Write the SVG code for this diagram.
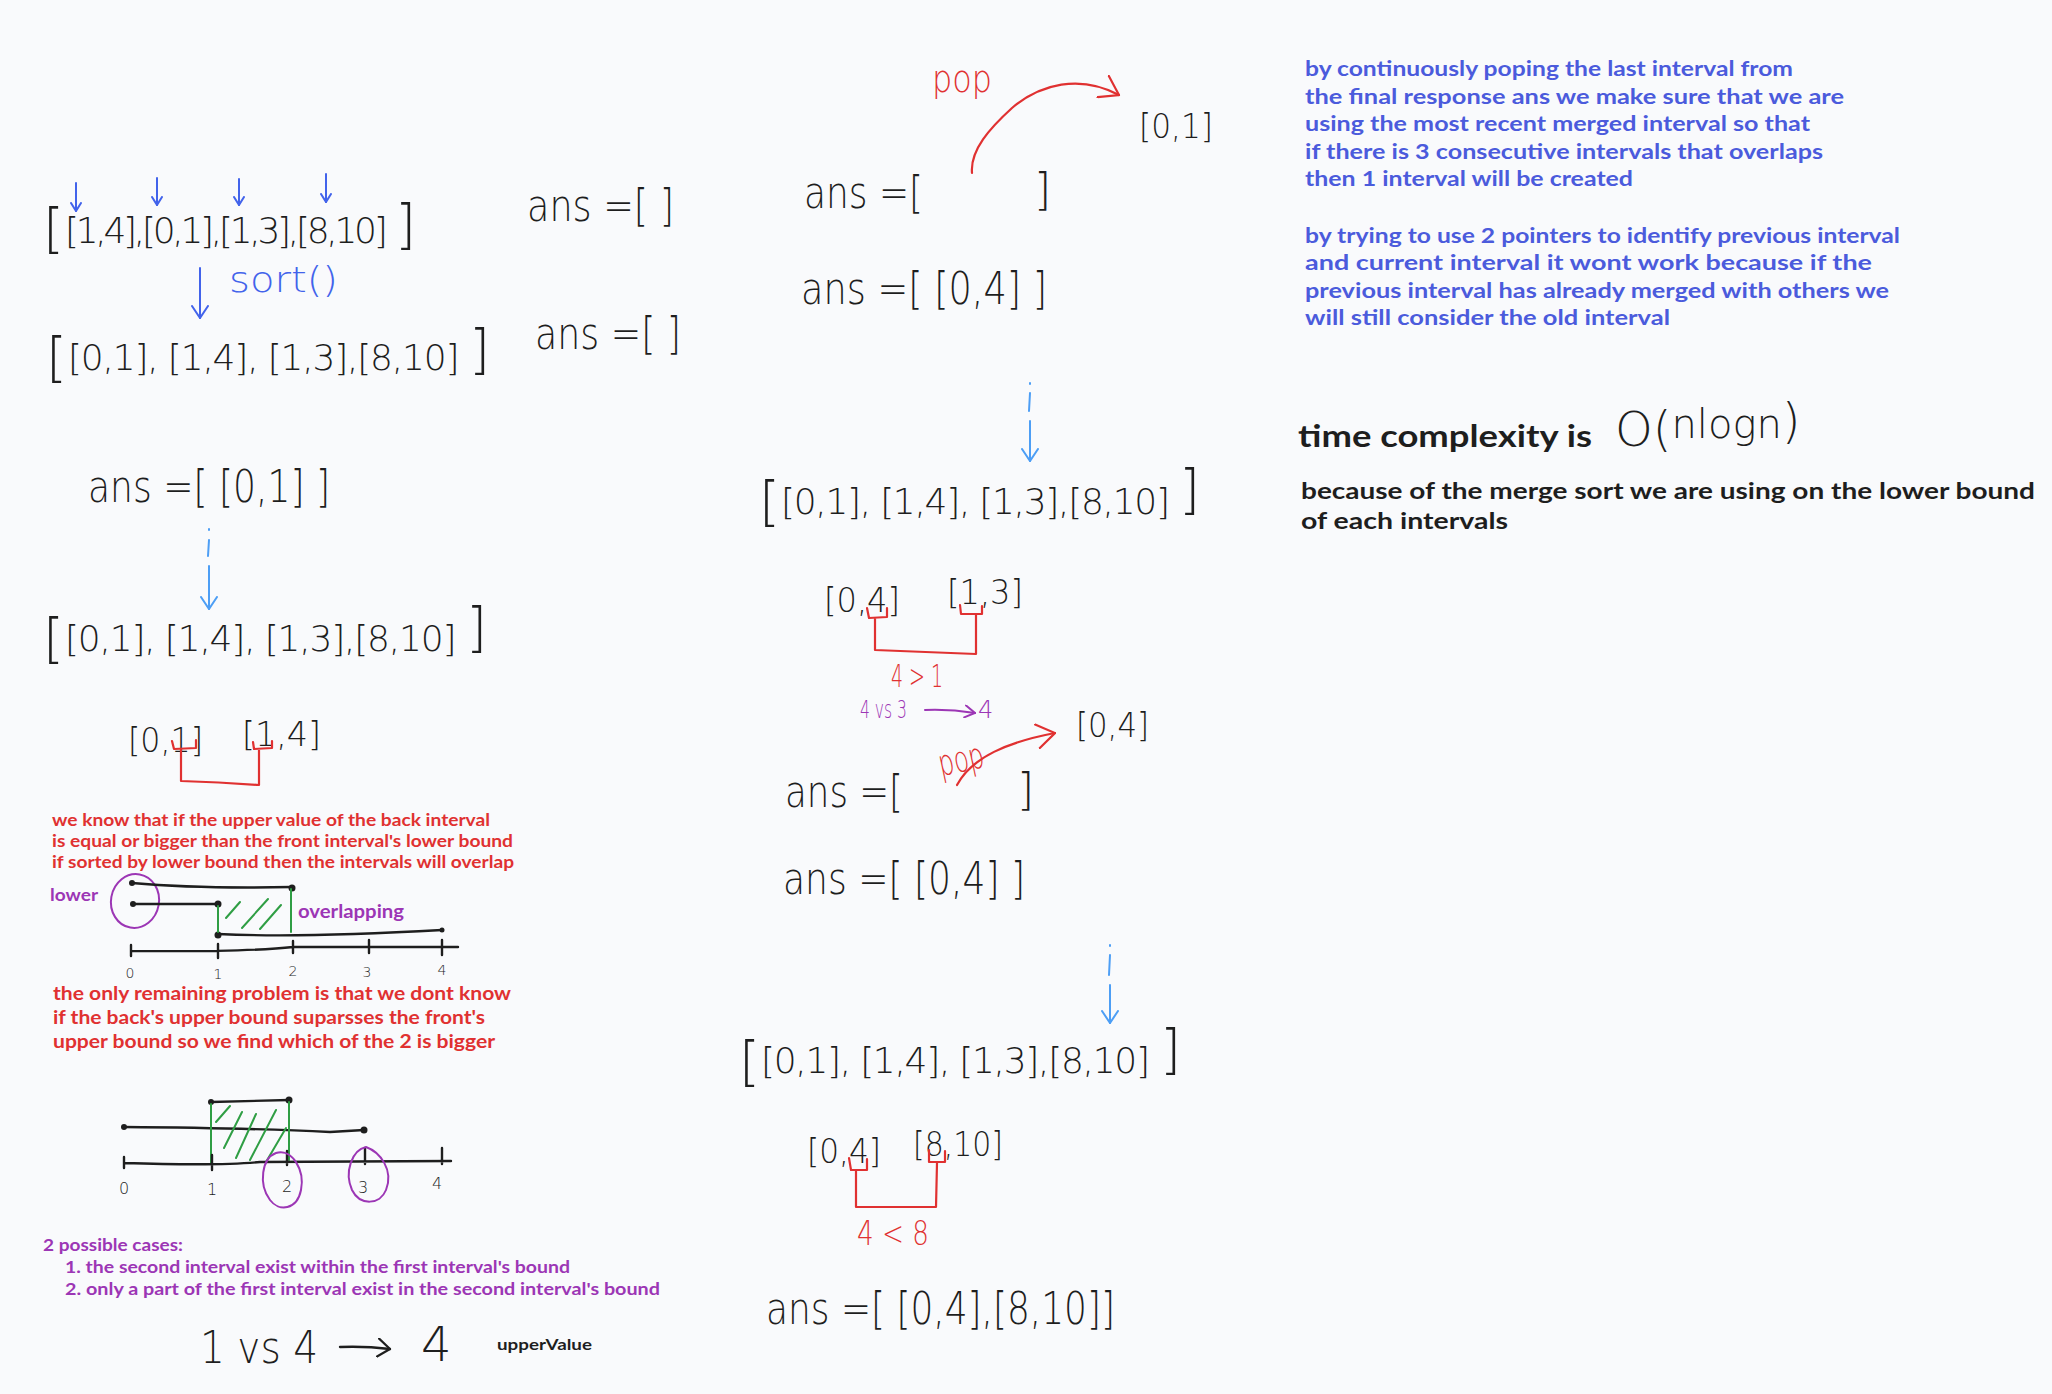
<svg xmlns="http://www.w3.org/2000/svg" width="2052" height="1394" viewBox="0 0 2052 1394">
<defs>
<style>
.hw{font-family:"DejaVu Sans","Liberation Sans",sans-serif;font-weight:200;fill:#1e1e1e}
.ob{font-size:54px}
.row{font-size:36px}
.note{font-family:"Lato","Open Sans",sans-serif;font-weight:700}
.blue{fill:#4b5bdc}
.red{fill:#e03131}
.pur{fill:#9c36b5}
.blk{fill:#1e1e1e}
.ln{fill:none;stroke-linecap:round;stroke-linejoin:round}
.sb{stroke:#4263eb;stroke-width:2}
.slb{stroke:#4d9ef5;stroke-width:2}
.sr{stroke:#e03131;stroke-width:2.2}
.sp{stroke:#9c36b5;stroke-width:2}
.sk{stroke:#1e1e1e;stroke-width:2.4}
.sg{stroke:#2f9e44;stroke-width:2}
</style>
<marker id="mB" viewBox="0 0 10 12" refX="9" refY="6" markerWidth="10" markerHeight="12" markerUnits="userSpaceOnUse" orient="auto"><path d="M1,1 L9,6 L1,11" fill="none" stroke="#4263eb" stroke-width="2" stroke-linecap="round"/></marker>
<marker id="mLB" viewBox="0 0 14 18" refX="13" refY="9" markerWidth="14" markerHeight="18" markerUnits="userSpaceOnUse" orient="auto"><path d="M1,1 L13,9 L1,17" fill="none" stroke="#4d9ef5" stroke-width="2" stroke-linecap="round"/></marker>
<marker id="mSB" viewBox="0 0 14 18" refX="13" refY="9" markerWidth="14" markerHeight="18" markerUnits="userSpaceOnUse" orient="auto"><path d="M1,1 L13,9 L1,17" fill="none" stroke="#4263eb" stroke-width="2" stroke-linecap="round"/></marker>
<marker id="mR" viewBox="0 0 20 26" refX="19" refY="13" markerWidth="20" markerHeight="26" markerUnits="userSpaceOnUse" orient="auto"><path d="M1,1 L19,13 L1,25" fill="none" stroke="#e03131" stroke-width="2.2" stroke-linecap="round"/></marker>
<marker id="mP" viewBox="0 0 12 14" refX="11" refY="7" markerWidth="12" markerHeight="14" markerUnits="userSpaceOnUse" orient="auto"><path d="M1,1 L11,7 L1,13" fill="none" stroke="#9c36b5" stroke-width="2" stroke-linecap="round"/></marker>
<marker id="mK" viewBox="0 0 14 20" refX="13" refY="10" markerWidth="14" markerHeight="20" markerUnits="userSpaceOnUse" orient="auto"><path d="M1,1 L13,10 L1,19" fill="none" stroke="#1e1e1e" stroke-width="2.2" stroke-linecap="round"/></marker>
</defs>
<rect width="2052" height="1394" fill="#f9fafc"/>

<!-- LEFT COLUMN -->
<g id="row-unsorted">
<text class="hw ob" x="43" y="247">[</text>
<text class="hw row" x="65" y="243" letter-spacing="-3.3">[1,4],[0,1],[1,3],[8,10]</text>
<text class="hw ob" x="395" y="243">]</text>
</g>
<g id="ans-empty-1"><text class="hw" x="527" y="221" font-size="44" textLength="147" lengthAdjust="spacingAndGlyphs">ans =[ ]</text></g>
<g id="sort-label"><text class="hw" x="229" y="292" font-size="36" style="fill:#4263eb" textLength="109" lengthAdjust="spacingAndGlyphs">sort()</text></g>
<g id="row-sorted-1">
<text class="hw ob" x="46" y="376">[</text>
<text class="hw row" x="68" y="370" letter-spacing="-1.2">[0,1], [1,4], [1,3],[8,10]</text>
<text class="hw ob" x="469" y="368">]</text>
</g>
<g id="ans-empty-2"><text class="hw" x="535" y="349" font-size="44" textLength="146" lengthAdjust="spacingAndGlyphs">ans =[ ]</text></g>
<g id="ans-01"><text class="hw" x="88" y="502" font-size="44" textLength="242" lengthAdjust="spacingAndGlyphs">ans =[ [0,1] ]</text></g>
<g id="row-sorted-2">
<text class="hw ob" x="43" y="657">[</text>
<text class="hw row" x="65" y="651" letter-spacing="-1.2">[0,1], [1,4], [1,3],[8,10]</text>
<text class="hw ob" x="466" y="646">]</text>
</g>
<g id="pair-01-14">
<text class="hw" x="128" y="752" font-size="34" textLength="75" lengthAdjust="spacingAndGlyphs">[0,1]</text>
<text class="hw" x="242" y="746" font-size="34" textLength="79" lengthAdjust="spacingAndGlyphs">[1,4]</text>
</g>
<g id="note-overlap">
<text class="note red" x="52" y="826" font-size="17" textLength="438" lengthAdjust="spacingAndGlyphs">we know that if the upper value of the back interval</text>
<text class="note red" x="52" y="847" font-size="17" textLength="461" lengthAdjust="spacingAndGlyphs">is equal or bigger than the front interval's lower bound</text>
<text class="note red" x="52" y="868" font-size="17" textLength="462" lengthAdjust="spacingAndGlyphs">if sorted by lower bound then the intervals will overlap</text>
</g>
<g id="numberline-1">
<text class="note pur" x="50" y="901" font-size="17" textLength="48" lengthAdjust="spacingAndGlyphs">lower</text>
<ellipse cx="135" cy="901" rx="24" ry="27" class="ln sp" transform="rotate(10 135 901)"/>
<path class="ln sk" d="M132,883 Q200,889 292,887"/>
<circle cx="132" cy="883" r="3" class="blk"/><circle cx="292" cy="888" r="3.5" class="blk"/>
<path class="ln sk" d="M132,904 L218,904"/>
<circle cx="133" cy="904" r="3" class="blk"/><circle cx="218" cy="904" r="3.5" class="blk"/>
<path class="ln sk" d="M218,934 Q300,938 442,930"/>
<circle cx="218" cy="935" r="3.5" class="blk"/><circle cx="442" cy="930" r="2.5" class="blk"/>
<path class="ln sg" d="M218,906 L218,932 M291,889 L291,932 M226,918 L240,902 M242,928 L268,899 M260,929 L281,905"/>
<text class="note pur" x="298" y="918" font-size="19" textLength="106" lengthAdjust="spacingAndGlyphs">overlapping</text>
<path class="ln sk" d="M131,951 Q250,952 293,947 L458,947 M131,945 L131,956 M218,944 L218,958 M293,941 L293,953 M369,940 L369,953 M442,940 L442,955"/>
<text class="hw" x="130" y="978" font-size="14" text-anchor="middle">0</text>
<text class="hw" x="218" y="979" font-size="14" text-anchor="middle">1</text>
<text class="hw" x="293" y="976" font-size="14" text-anchor="middle">2</text>
<text class="hw" x="367" y="977" font-size="14" text-anchor="middle">3</text>
<text class="hw" x="442" y="975" font-size="14" text-anchor="middle">4</text>
</g>
<g id="note-problem">
<text class="note red" x="53" y="1000" font-size="19" textLength="458" lengthAdjust="spacingAndGlyphs">the only remaining problem is that we dont know</text>
<text class="note red" x="53" y="1024" font-size="19" textLength="432" lengthAdjust="spacingAndGlyphs">if the back's upper bound suparsses the front's</text>
<text class="note red" x="53" y="1048" font-size="19" textLength="442" lengthAdjust="spacingAndGlyphs">upper bound so we find which of the 2 is bigger</text>
</g>
<g id="numberline-2">
<path class="ln sk" d="M211,1102 L289,1100"/>
<circle cx="211" cy="1102" r="3" class="blk"/><circle cx="289" cy="1100" r="3.5" class="blk"/>
<path class="ln sk" d="M124,1127 Q250,1128 330,1132 L364,1130"/>
<circle cx="124" cy="1127" r="3" class="blk"/><circle cx="364" cy="1130" r="3.5" class="blk"/>
<path class="ln sg" d="M211,1104 L211,1163 M289,1102 L289,1160 M216,1122 L230,1106 M224,1148 L242,1112 M236,1158 L256,1114 M250,1160 L276,1110 M266,1162 L286,1128"/>
<path class="ln sk" d="M124,1163 Q220,1166 260,1162 L451,1161 M124,1157 L124,1168 M212,1155 L212,1170 M287,1151 L287,1165 M365,1148 L365,1164 M442,1148 L442,1164"/>
<text class="hw" x="124" y="1194" font-size="16" text-anchor="middle">0</text>
<text class="hw" x="212" y="1195" font-size="16" text-anchor="middle">1</text>
<text class="hw" x="287" y="1192" font-size="16" text-anchor="middle">2</text>
<text class="hw" x="363" y="1193" font-size="16" text-anchor="middle">3</text>
<text class="hw" x="437" y="1189" font-size="16" text-anchor="middle">4</text>
<path class="ln sp" d="M276,1153 C292,1148 305,1170 301,1190 C297,1210 279,1212 270,1200 C258,1184 262,1158 276,1153 Z"/>
<path class="ln sp" d="M366,1147 C380,1152 394,1170 386,1190 C380,1205 360,1206 352,1190 C344,1172 352,1150 366,1147 Z"/>
</g>
<g id="note-cases">
<text class="note pur" x="43" y="1251" font-size="17" textLength="140" lengthAdjust="spacingAndGlyphs">2 possible cases:</text>
<text class="note pur" x="65" y="1273" font-size="17" textLength="505" lengthAdjust="spacingAndGlyphs">1. the second interval exist within the first interval's bound</text>
<text class="note pur" x="65" y="1295" font-size="17" textLength="595" lengthAdjust="spacingAndGlyphs">2. only a part of the first interval exist in the second interval's bound</text>
</g>
<g id="upper-value">
<text class="hw" x="200" y="1363" font-size="44" textLength="118" lengthAdjust="spacingAndGlyphs">1 vs 4</text>
<text class="hw" x="421" y="1361" font-size="48">4</text>
<text class="note blk" x="497" y="1350" font-size="16" textLength="95" lengthAdjust="spacingAndGlyphs">upperValue</text>
</g>

<!-- MIDDLE COLUMN -->
<g id="pop-1"><text class="hw" x="932" y="92" font-size="38" textLength="60" lengthAdjust="spacingAndGlyphs" style="fill:#e03131">pop</text></g>
<g id="popped-01"><text class="hw" x="1139" y="138" font-size="34" textLength="74" lengthAdjust="spacingAndGlyphs">[0,1]</text></g>
<g id="ans-pop-1">
<text class="hw" x="804" y="208" font-size="44" textLength="119" lengthAdjust="spacingAndGlyphs">ans =[</text>
<text class="hw" x="1034" y="205" font-size="44">]</text>
</g>
<g id="ans-04-a"><text class="hw" x="801" y="304" font-size="44" textLength="246" lengthAdjust="spacingAndGlyphs">ans =[ [0,4] ]</text></g>
<g id="row-sorted-3">
<text class="hw ob" x="759" y="520">[</text>
<text class="hw row" x="781" y="514" letter-spacing="-1.3">[0,1], [1,4], [1,3],[8,10]</text>
<text class="hw ob" x="1179" y="508">]</text>
</g>
<g id="pair-04-13">
<text class="hw" x="824" y="612" font-size="34" textLength="76" lengthAdjust="spacingAndGlyphs">[0,4]</text>
<text class="hw" x="947" y="604" font-size="34" textLength="76" lengthAdjust="spacingAndGlyphs">[1,3]</text>
</g>
<g id="cmp-4-1"><text class="hw" x="891" y="687" font-size="32" textLength="52" lengthAdjust="spacingAndGlyphs" style="fill:#e03131">4 &gt; 1</text></g>
<g id="cmp-4vs3">
<text class="hw" x="860" y="718" font-size="24" textLength="47" lengthAdjust="spacingAndGlyphs" style="fill:#9c36b5">4 vs 3</text>
<text class="hw" x="978" y="718" font-size="24" style="fill:#9c36b5">4</text>
</g>
<g id="pop-2"><text class="hw" x="938" y="772" font-size="36" transform="rotate(-12 960 760)" textLength="46" lengthAdjust="spacingAndGlyphs" style="fill:#e03131">pop</text></g>
<g id="popped-04"><text class="hw" x="1076" y="737" font-size="34" textLength="73" lengthAdjust="spacingAndGlyphs">[0,4]</text></g>
<g id="ans-pop-2">
<text class="hw" x="785" y="807" font-size="44" textLength="118" lengthAdjust="spacingAndGlyphs">ans =[</text>
<text class="hw" x="1017" y="805" font-size="44">]</text>
</g>
<g id="ans-04-b"><text class="hw" x="783" y="894" font-size="44" textLength="242" lengthAdjust="spacingAndGlyphs">ans =[ [0,4] ]</text></g>
<g id="row-sorted-4">
<text class="hw ob" x="739" y="1080">[</text>
<text class="hw row" x="761" y="1073" letter-spacing="-1.3">[0,1], [1,4], [1,3],[8,10]</text>
<text class="hw ob" x="1160" y="1068">]</text>
</g>
<g id="pair-04-810">
<text class="hw" x="807" y="1163" font-size="34" textLength="74" lengthAdjust="spacingAndGlyphs">[0,4]</text>
<text class="hw" x="913" y="1156" font-size="34" textLength="90" lengthAdjust="spacingAndGlyphs">[8,10]</text>
</g>
<g id="cmp-4-8"><text class="hw" x="857" y="1245" font-size="34" textLength="72" lengthAdjust="spacingAndGlyphs" style="fill:#e03131">4 &lt; 8</text></g>
<g id="ans-final"><text class="hw" x="766" y="1324" font-size="44" textLength="349" lengthAdjust="spacingAndGlyphs">ans =[ [0,4],[8,10]]</text></g>

<!-- RIGHT COLUMN -->
<g id="note-pop">
<text class="note blue" x="1305" y="76" font-size="20" textLength="488" lengthAdjust="spacingAndGlyphs">by continuously poping the last interval from</text>
<text class="note blue" x="1305" y="104" font-size="20" textLength="539" lengthAdjust="spacingAndGlyphs">the final response ans we make sure that we are</text>
<text class="note blue" x="1305" y="131" font-size="20" textLength="505" lengthAdjust="spacingAndGlyphs">using the most recent merged interval so that</text>
<text class="note blue" x="1305" y="159" font-size="20" textLength="518" lengthAdjust="spacingAndGlyphs">if there is 3 consecutive intervals that overlaps</text>
<text class="note blue" x="1305" y="186" font-size="20" textLength="328" lengthAdjust="spacingAndGlyphs">then 1 interval will be created</text>
</g>
<g id="note-pointers">
<text class="note blue" x="1305" y="243" font-size="20" textLength="595" lengthAdjust="spacingAndGlyphs">by trying to use 2 pointers to identify previous interval</text>
<text class="note blue" x="1305" y="270" font-size="20" textLength="567" lengthAdjust="spacingAndGlyphs">and current interval it wont work because if the</text>
<text class="note blue" x="1305" y="298" font-size="20" textLength="584" lengthAdjust="spacingAndGlyphs">previous interval has already merged with others we</text>
<text class="note blue" x="1305" y="325" font-size="20" textLength="365" lengthAdjust="spacingAndGlyphs">will still consider the old interval</text>
</g>
<g id="complexity">
<text class="note blk" x="1298" y="447" font-size="30" textLength="294" lengthAdjust="spacingAndGlyphs">time complexity is</text>
<text class="hw" x="1615" y="446" font-size="48">O(<tspan font-size="40" dy="-8">nlogn</tspan><tspan font-size="48" dy="0">)</tspan></text>
<text class="note blk" x="1301" y="499" font-size="22" textLength="734" lengthAdjust="spacingAndGlyphs">because of the merge sort we are using on the lower bound</text>
<text class="note blk" x="1301" y="529" font-size="22" textLength="207" lengthAdjust="spacingAndGlyphs">of each intervals</text>
</g>

<!-- CONNECTORS -->
<g id="connectors">
<path class="ln sb" d="M76,183 L76,211" marker-end="url(#mB)"/>
<path class="ln sb" d="M157,178 L157,205" marker-end="url(#mB)"/>
<path class="ln sb" d="M239,179 L239,205" marker-end="url(#mB)"/>
<path class="ln sb" d="M326,174 L326,202" marker-end="url(#mB)"/>
<path class="ln sb" d="M200,268 L200,318" marker-end="url(#mSB)"/>
<path class="ln slb" d="M209,529 L209,530 M209,540 L208,556 M209,566 L209,609" marker-end="url(#mLB)"/>
<path class="ln sr" d="M172,741 L174,749 L196,748 L196,740 M181,749 L181,781 Q220,782 259,785 L259,749 M253,742 L254,749 L272,748 L272,741"/>
<path class="ln sk" d="M340,1347 Q365,1346 390,1349" marker-end="url(#mK)"/>
<path class="ln sr" d="M972,173 C970,150 990,128 1012,108 C1040,84 1080,74 1119,95" marker-end="url(#mR)"/>
<path class="ln slb" d="M1030,383 L1030,384 M1030,393 L1029,411 M1030,421 L1030,461" marker-end="url(#mLB)"/>
<path class="ln sr" d="M867,608 L869,618 L887,617 L887,608 M875,618 L875,650 Q925,652 976,654 L976,614 M960,605 L961,614 L982,614 L982,606"/>
<path class="ln sp" d="M925,710 Q950,709 975,713" marker-end="url(#mP)"/>
<path class="ln sr" d="M957,785 C972,757 1008,742 1055,733" marker-end="url(#mR)"/>
<path class="ln slb" d="M1110,945 L1110,946 M1110,955 L1109,975 M1110,985 L1110,1023" marker-end="url(#mLB)"/>
<path class="ln sr" d="M849,1158 L851,1170 L867,1170 L867,1159 M856,1170 L856,1207 L936,1207 L937,1163 M929,1150 L929,1162 L945,1162 L945,1151"/>
</g>
</svg>
